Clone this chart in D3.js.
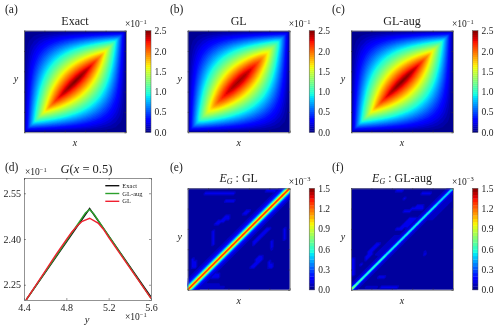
<!DOCTYPE html>
<html><head><meta charset="utf-8">
<style>html,body{margin:0;padding:0;background:#fff}svg{display:block}
text{font-family:"Liberation Serif","DejaVu Serif",serif;fill:#222}</style>
<script src="https://cdnjs.cloudflare.com/ajax/libs/d3/7.8.5/d3.min.js"></script></head><body><div id="c"></div>
<script>
// Green's function fields, units of 1e-1, rows y=0..0.5 on a 0.05 grid (the lower half; the picture is point-symmetric)
const exactLower=[
[0,0,0,0,0,0,0,0,0,0,0,0,0,0,0,0,0,0,0,0,0],
[0,.475,.45,.425,.4,.375,.35,.325,.3,.275,.25,.225,.2,.175,.15,.125,.1,.075,.05,.025,0],
[0,.45,.9,.85,.8,.75,.7,.65,.6,.55,.5,.45,.4,.35,.3,.25,.2,.15,.1,.05,0],
[0,.425,.85,1.275,1.2,1.125,1.05,.975,.9,.825,.75,.675,.6,.525,.45,.375,.3,.225,.15,.075,0],
[0,.4,.8,1.2,1.6,1.5,1.4,1.3,1.2,1.1,1,.9,.8,.7,.6,.5,.4,.3,.2,.1,0],
[0,.375,.75,1.125,1.5,1.875,1.75,1.625,1.5,1.375,1.25,1.125,1,.875,.75,.625,.5,.375,.25,.125,0],
[0,.35,.7,1.05,1.4,1.75,2.1,1.95,1.8,1.65,1.5,1.35,1.2,1.05,.9,.75,.6,.45,.3,.15,0],
[0,.325,.65,.975,1.3,1.625,1.95,2.275,2.1,1.925,1.75,1.575,1.4,1.225,1.05,.875,.7,.525,.35,.175,0],
[0,.3,.6,.9,1.2,1.5,1.8,2.1,2.4,2.2,2,1.8,1.6,1.4,1.2,1,.8,.6,.4,.2,0],
[0,.275,.55,.825,1.1,1.375,1.65,1.925,2.2,2.475,2.25,2.025,1.8,1.575,1.35,1.125,.9,.675,.45,.225,0],
[0,.25,.5,.75,1,1.25,1.5,1.75,2,2.25,2.5,2.25,2,1.75,1.5,1.25,1,.75,.5,.25,0]];
const glLower=[
[0,0,0,0,0,0,0,0,0,0,0,0,0,0,0,0,0,0,0,0,0],
[0,.44,.45,.425,.4,.375,.35,.325,.3,.275,.25,.225,.2,.175,.15,.125,.1,.075,.05,.025,0],
[0,.45,.85,.85,.8,.75,.7,.65,.6,.55,.5,.45,.4,.35,.3,.25,.2,.15,.1,.05,0],
[0,.425,.85,1.21,1.2,1.125,1.05,.975,.9,.825,.75,.675,.6,.525,.45,.375,.3,.225,.15,.075,0],
[0,.4,.8,1.2,1.53,1.5,1.4,1.3,1.2,1.1,1,.9,.8,.7,.6,.5,.4,.3,.2,.1,0],
[0,.375,.75,1.125,1.5,1.8,1.75,1.625,1.5,1.375,1.25,1.125,1,.875,.75,.625,.5,.375,.25,.125,0],
[0,.35,.7,1.05,1.4,1.75,2.03,1.95,1.8,1.65,1.5,1.35,1.2,1.05,.9,.75,.6,.45,.3,.15,0],
[0,.325,.65,.975,1.3,1.625,1.95,2.21,2.1,1.925,1.75,1.575,1.4,1.225,1.05,.875,.7,.525,.35,.175,0],
[0,.3,.6,.9,1.2,1.5,1.8,2.1,2.33,2.2,2,1.8,1.6,1.4,1.2,1,.8,.6,.4,.2,0],
[0,.275,.55,.825,1.1,1.375,1.65,1.925,2.2,2.41,2.25,2.025,1.8,1.575,1.35,1.125,.9,.675,.45,.225,0],
[0,.25,.5,.75,1,1.25,1.5,1.75,2,2.25,2.43,2.25,2,1.75,1.5,1.25,1,.75,.5,.25,0]];
// Error fields on a 0.025 grid, rows y=0..1; one base-36 digit per cell, in steps of 0.05e-3
const errorGL=[
"se63211111 1111111111 1111111111 1111111111 1",
"ese6322222 2222211111 1111111111 1111111111 1",
"6ese632222 2221111111 1111111111 1111111111 1",
"36ese63211 1111111111 1111111111 1111111111 1",
"236ese6321 1111111111 1111111111 1111111111 1",
"1236ese632 3331111111 1111111111 1111111111 1",
"11236ese63 2331111111 1111111111 1111111111 1",
"111236ese6 3211111111 1111111111 1111111111 1",
"1111236ese 6321111111 1111111111 1111111111 1",
"11331236es e632111111 1111133111 1133111111 1",
"113311236e se63211111 1111113311 1133111111 1",
"1133111236 ese6321111 1111111331 1131111111 1",
"1131111123 6ese632111 1111111333 1111111111 1",
"1111111112 36ese63211 1111111133 1111111111 1",
"1111111111 236ese6321 1111111111 1111111111 1",
"1111111111 1236ese632 1111111111 1111111111 1",
"1111111111 11236ese63 2111111111 1112111111 1",
"1111111111 111236ese6 3211111111 1113111111 1",
"1111111111 3111236ese 6321113111 1113111111 1",
"1111111111 31111236es e632113311 1113111111 1",
"1111111111 311111236e se63211331 1111111131 1",
"1111111111 3111111236 ese6321133 1111111131 1",
"1111111111 3111111123 6ese632113 3111111131 1",
"1111111111 3111111112 36ese63211 3311111131 1",
"1111111111 1111111111 236ese6321 1331111131 1",
"1111111111 1111111111 1236ese632 1111111111 1",
"1111111111 1331111111 11236ese63 2111111111 1",
"1111111111 1133311111 111236ese6 3211111111 1",
"1111111111 1111333111 1111236ese 6321111111 1",
"1111111111 1111133111 11111236es e632111111 1",
"1111111111 1111111111 113311236e se63211111 1",
"1111111111 1111111111 1113311236 ese6321111 1",
"1111111111 1111111111 1111111123 6ese632111 1",
"1111111111 1111111111 1111111112 36ese63211 1",
"1111111111 1111111111 1111111111 236ese6321 1",
"1111111111 1111133331 1111111111 1236ese632 1",
"1111111111 1111111111 1111111111 11236ese63 2",
"1111111111 1111111111 1111111111 111236ese6 3",
"1111111333 3333333331 1111111111 1111236ese 6",
"1111111111 1111111111 1111111111 13333236es e",
"1111111111 1111111111 1111111111 111111236e s"];
const errorAug=[
"k321111111 1111111111 1111111111 1111111111 1",
"3i32112222 2133333331 1111111111 1111111111 1",
"23g3211111 1111111111 1111111111 1111111111 1",
"123f321111 1111111111 1111111111 1111111111 1",
"1123f32111 1111111111 1111111111 1111111111 1",
"11123e3211 1333111111 1111111111 1111111111 1",
"331123e321 1111111111 1111111111 1111111111 1",
"3311123e32 1111111111 1111111111 1111111111 1",
"33111123e3 2111111111 1111111111 1111111111 1",
"331111123e 3211111111 1111111111 1111111111 1",
"3311311123 e321111111 1111111111 1111111111 1",
"3311111112 3e32111111 1111111111 1111111111 1",
"3311113111 23e3211111 1111111111 1111111111 1",
"1111113311 123e321111 1111111111 1111111111 1",
"1111111331 2223d32111 1111111113 1111111111 1",
"1111111331 12223d3211 1111111112 1111111111 1",
"1111111133 112223d321 1111111111 1111111111 1",
"1111111113 3112223d32 1111111111 1111111111 1",
"1111111111 33112223d3 2111111111 1111111111 1",
"1111111111 111112223d 3211111111 1111111111 1",
"1111111111 1111112223 d321111111 1111111111 1",
"1111111111 1111111222 3d32111111 1111111111 1",
"1111111111 1111111111 23d3211111 1111111111 1",
"1111111111 1111111111 123d321111 1111111111 1",
"1111111111 1111111133 3123d32111 1111111111 1",
"1111111111 1111111111 33323d3211 1111111111 1",
"1111111111 1111111111 133323d321 1111111111 1",
"1111111111 1111111111 1133323d32 1111111111 1",
"1111111111 1111111111 11133323d3 2221111111 1",
"1111111111 1111111111 111111123d 3222111111 1",
"1111111111 1111111111 1111111123 d322211111 1",
"1111111111 1111111111 1333111112 3d32221111 1",
"1111111111 1111111111 1111333331 23d3222111 1",
"1111111111 1111111111 1111113331 123d322211 1",
"1111111111 1111111111 1111111111 1123c32221 1",
"1111111111 1111111111 1111111111 11123c3222 1",
"1111111111 1111111111 1311111111 111123c322 1",
"1111111111 1111111111 1111111111 1111123c32 1",
"1111111111 1111111111 1111111133 33111123c3 2",
"1111111111 1111111133 3111111111 111111123c 3",
"1111111111 1111111111 1111111111 1111111123 c"];
// Panel (d) G(x=0.5), y in 1e-1, G in 1e-1
const dExactY=[4.42,5.02,5.6], dExactG=[2.2,2.5,2.21];
const dAugY=[4.42,4.98,5.02,5.06,5.6], dAugG=[2.2,2.485,2.497,2.482,2.205];
const dGLY=[4.42,4.6,4.7,4.8,4.85,4.9,4.95,5.02,5.1,5.15,5.2,5.3,5.4,5.5,5.6], dGLG=[2.2,2.295,2.348,2.398,2.422,2.442,2.458,2.468,2.452,2.432,2.405,2.355,2.305,2.255,2.205];
const dXTicks=[4.4,4.8,5.2,5.6], dYTicks=[2.25,2.40,2.55];
const gTicks=[0,.5,1,1.5,2,2.5], eTicks=[0,.3,.6,.9,1.2,1.5];
const legendLabels=["Exact","GL-aug","GL"], lineColors=["#111","#2ca02c","#f02030"];

const W=497,H=328;
const svg=d3.select("#c").append("svg").attr("width",W).attr("height",H).attr("viewBox",[0,0,W,H]).style("filter","blur(0.35px)");
const chan=(d,r)=>d3.scaleLinear().domain(d).range(r).clamp(true);
const R=chan([0,.35,.66,.89,1],[0,0,1,1,.5]),G=chan([0,.125,.375,.64,.91,1],[0,0,1,1,0,0]),B=chan([0,.11,.34,.65,1],[.5,1,1,0,0]);
const jet=t=>`rgb(${R(t)*255},${G(t)*255},${B(t)*255})`;
const unfold=l=>l.concat(l.slice(0,-1).reverse().map(r=>r.slice().reverse()));
const parse=s=>s.map(r=>Array.from(r.replace(/ /g,""),c=>Math.max(0,parseInt(c,36)*.05-.02)));
// display resampling: each grid cell is split along the main diagonal so the ridge stays continuous
function refine(rows,k){const n=rows.length,m=(n-1)*k+1,out=[];
 for(let b=0;b<m;b++)for(let a=0;a<m;a++){
  const i=Math.min(Math.floor(a/k),n-2),j=Math.min(Math.floor(b/k),n-2),u=a/k-i,v=b/k-j;
  const p=rows[j][i],q=rows[j][i+1],r=rows[j+1][i],s=rows[j+1][i+1];
  out.push(u>=v?p+(q-p)*u+(s-q)*v:p+(s-r)*u+(r-p)*v);}
 return {m,values:out};}
let uid=0;
function txt(g,x,y,s,fs,anchor,italic){const t=g.append("text").attr("x",x).attr("y",y).attr("font-size",fs).attr("text-anchor",anchor||"start");if(italic)t.attr("font-style","italic");t.text(s);return t;}
function exp10(g,x,y,e){const t=g.append("text").attr("x",x).attr("y",y).attr("font-size",9.5);t.append("tspan").text("×10");t.append("tspan").attr("dy",-3.5).attr("font-size",6.5).text("−"+e);}
function heat(o){
 const g=svg.append("g");
 const x=d3.scaleLinear().domain([0,1]).range([o.x0,o.x0+o.w]),y=d3.scaleLinear().domain([0,1]).range([o.y0+o.h,o.y0]);
 const col=d3.scaleLinear().domain([0,o.max]).range([0,1]);
 const id="cp"+(uid++);
 g.append("clipPath").attr("id",id).append("rect").attr("x",o.x0).attr("y",o.y0).attr("width",o.w).attr("height",o.h);
 const step=o.max/o.bands,levels=d3.range(0,o.bands).map(i=>i*step);
 const f=refine(o.rows,o.k),n=f.m;
 const path=d3.geoPath(d3.geoTransform({point(a,b){this.stream.point(x((a-.5)/(n-1)),y((b-.5)/(n-1)));}}));
 const cg=g.append("g").attr("clip-path",`url(#${id})`);
 cg.selectAll("path").data(d3.contours().size([n,n]).thresholds(levels).smooth(true)(f.values)).join("path")
  .attr("d",path).attr("fill",d=>jet(col(d.value+step*.8))).attr("stroke","none");
 const ax=(a,t)=>a.tickValues(d3.range(0,1.01,.2)).tickSize(t).tickFormat("");
 const style=s=>{s.select(".domain").attr("stroke","#777").attr("stroke-width",.8);s.selectAll(".tick line").attr("stroke","#333").attr("stroke-width",.5);};
 g.append("g").attr("transform",`translate(0,${o.y0+o.h})`).call(ax(d3.axisBottom(x),-1.5)).call(style);
 g.append("g").attr("transform",`translate(0,${o.y0})`).call(ax(d3.axisTop(x),-1.5)).call(style);
 g.append("g").attr("transform",`translate(${o.x0},0)`).call(ax(d3.axisLeft(y),-1.5)).call(style);
 g.append("g").attr("transform",`translate(${o.x0+o.w},0)`).call(ax(d3.axisRight(y),-1.5)).call(style);
 // colour bar
 const c=d3.scaleLinear().domain([0,o.max]).range([o.y0+o.h,o.y0]);
 const bx=o.x0+o.w+19.5,bw=5.5;
 g.append("g").selectAll("rect").data(levels).join("rect").attr("x",bx).attr("width",bw)
  .attr("y",d=>c(d+step)).attr("height",d=>c(d)-c(d+step)+.3).attr("fill",d=>jet(col(d+step/2)));
 const cb=g.append("g").attr("transform",`translate(${bx+bw},0)`).call(d3.axisRight(c).tickValues(o.ticks).tickSize(0).tickPadding(3.5).tickFormat(d3.format(".1f")));
 cb.select(".domain").remove();
 cb.selectAll("text").attr("font-size",9.5).attr("font-family",null).attr("fill","#222");
 g.append("rect").attr("x",bx).attr("y",o.y0).attr("width",bw).attr("height",o.h).attr("fill","none").attr("stroke","#555").attr("stroke-width",.5);
 txt(g,o.x0+o.w/2,o.y0-5.7,o.title,12,"middle");
 txt(g,o.x0+o.w/2,o.y0+o.h+14,"x",10,"middle",true);
 txt(g,o.x0-8,o.y0+o.h/2+1,"y",10,"middle",true);
 exp10(g,o.x0+o.w-1,o.y0-3.5,o.exp);
 txt(g,o.lx,o.ly,o.label,11.5);
 return g;
}
const T=30.7,h=101.5,w=102;
heat({rows:unfold(exactLower),k:5,x0:24,y0:T,w,h,max:2.5,bands:50,ticks:gTicks,title:"Exact",exp:1,label:"(a)",lx:5,ly:13});
heat({rows:unfold(glLower),k:5,x0:187.7,y0:T,w,h,max:2.5,bands:50,ticks:gTicks,title:"GL",exp:1,label:"(b)",lx:170,ly:13});
heat({rows:unfold(exactLower),k:5,x0:351,y0:T,w,h,max:2.5,bands:50,ticks:gTicks,title:"GL-aug",exp:1,label:"(c)",lx:332,ly:13});
const eo=heat({rows:parse(errorGL),k:3,x0:187.7,y0:188.3,w,h,max:1.5,bands:30,ticks:eTicks,title:"",exp:3,label:"(e)",lx:170,ly:171});
const fo=heat({rows:parse(errorAug),k:3,x0:351,y0:188.3,w,h,max:1.5,bands:30,ticks:eTicks,title:"",exp:3,label:"(f)",lx:332,ly:171});
function eTitle(g,cx,rest){const t=g.append("text").attr("x",cx).attr("y",182).attr("font-size",12).attr("text-anchor","middle");
 t.append("tspan").attr("font-style","italic").text("E");t.append("tspan").attr("font-style","italic").attr("font-size",8).attr("dy",2).text("G");t.append("tspan").attr("dy",-2).text(" : "+rest);}
eTitle(eo,238.7,"GL");eTitle(fo,402,"GL-aug");
// panel (d)
(function(){
 const g=svg.append("g"),x0=24,x1=151,y0=178,y1=300;
 const x=d3.scaleLinear().domain([4.4,5.6]).range([x0,x1]),y=d3.scaleLinear().domain([2.2,2.6]).range([y1,y0]);
 const id="cpd";g.append("clipPath").attr("id",id).append("rect").attr("x",x0).attr("y",y0).attr("width",x1-x0).attr("height",y1-y0);
 const line=d3.line().x(d=>x(d[0])).y(d=>y(d[1]));
 const series=[[dExactY,dExactG],[dAugY,dAugG],[dGLY,dGLG]];
 g.append("g").attr("clip-path",`url(#${id})`).selectAll("path").data(series).join("path")
  .attr("d",s=>line(d3.zip(s[0],s[1]))).attr("fill","none").attr("stroke",(d,i)=>lineColors[i]).attr("stroke-width",1.4);
 const st=s=>{s.select(".domain").attr("stroke","#777").attr("stroke-width",.8);s.selectAll(".tick line").attr("stroke","#333").attr("stroke-width",.5);s.selectAll("text").attr("font-size",10).attr("font-family",null).attr("fill","#222");};
 g.append("g").attr("transform",`translate(0,${y1})`).call(d3.axisBottom(x).tickValues(dXTicks).tickSize(-2).tickPadding(4).tickFormat(d3.format(".1f"))).call(st);
 g.append("g").attr("transform",`translate(${x0},0)`).call(d3.axisLeft(y).tickValues(dYTicks).tickSize(-2).tickPadding(3).tickFormat(d3.format(".2f"))).call(st);
 g.append("g").attr("transform",`translate(0,${y0})`).call(d3.axisTop(x).tickValues(dXTicks).tickSize(-2).tickFormat("")).call(st);
 g.append("g").attr("transform",`translate(${x1},0)`).call(d3.axisRight(y).tickValues(dYTicks).tickSize(-2).tickFormat("")).call(st);
 const lg=g.append("g").selectAll("g").data(legendLabels).join("g").attr("transform",(d,i)=>`translate(105.3,${185.7+i*7.8})`);
 lg.append("line").attr("x2",14).attr("stroke",(d,i)=>lineColors[i]).attr("stroke-width",1.4);
 lg.append("text").attr("x",17).attr("y",2).attr("font-size",6.5).text(d=>d);
 txt(g,5,171,"(d)",11.5);
 exp10(g,25,175,1);
 const t=g.append("text").attr("x",60.5).attr("y",173).attr("font-size",12.5);
 t.append("tspan").attr("font-style","italic").text("G");t.append("tspan").text("(");t.append("tspan").attr("font-style","italic").text("x");t.append("tspan").text(" = 0.5)");
 txt(g,87,323,"y",10.5,"middle",true);
 exp10(g,125,320,1);
})();
</script></body></html>
